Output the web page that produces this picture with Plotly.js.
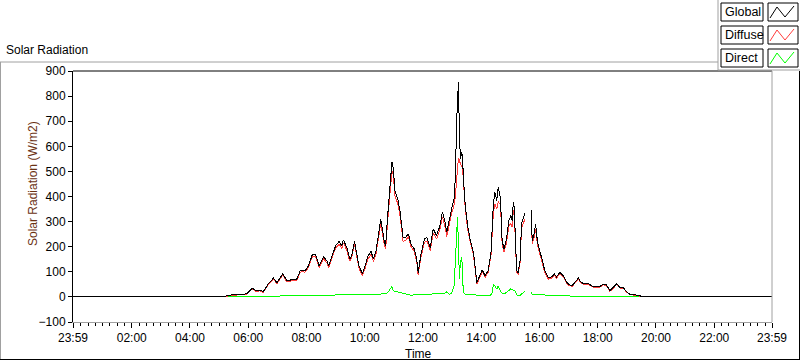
<!DOCTYPE html>
<html>
<head>
<meta charset="utf-8">
<script src="https://cdn.plot.ly/plotly-3.0.1.min.js"></script>
<style>html,body{margin:0;padding:0;background:#fff;}#chart{width:800px;height:361px;}
#chart path.js-line{shape-rendering:crispEdges;}</style>
</head>
<body>
<div id="chart"></div>
<script>
// minutes since midnight (-1 = 23:59 of previous day)
const timeMin = [-1,300,316,326,345,357,368,377,384,391,401,412,419,431,439,446,460,467,473,477,
484,492,499,506,515,522,526,533,540,547,553,556,563,569,573,579,583,588,595,
601,606,613,618,623,628,633,640,643,647,652,656,659,662,668,673,679,684,690,695,702,707,710,716,
723,728,735,741,748,755,760,765,769,774,779,784,787,789,791,793,795,797,800,802,803,807,812,817,824,829,831,837,
842,848,854,860,863,865,868,872,875,879,881,883,887,892,897,901,904,906,908,911,913,916,920,923,927,930,936,
943,945,949,952,956,961,966,971,978,985,991,995,1002,1009,1018,1027,1033,1040,1046,1052,1061,1068,1075,
1083,1091,1098,1105,1112,1119,1126,1133,1139,1146,1157,1167,1177,1439];

const globalRad = [0,0,4,8,10,12,35,24,27,21,51,75,57,91,67,67,71,104,107,104,
124,168,168,124,160,144,124,168,204,221,204,227,197,151,164,221,171,124,93,
124,160,181,151,181,244,311,224,204,317,451,537,511,424,391,337,237,237,251,211,191,151,97,171,
231,237,197,271,244,284,337,304,257,311,351,391,484,684,791,857,657,551,577,537,484,364,284,231,177,84,57,84,
108,84,104,171,291,371,417,384,437,397,331,224,191,231,304,324,304,377,357,237,104,97,144,291,317,333,null,
347,224,251,291,217,184,144,104,77,80,91,80,97,84,53,44,57,75,57,53,53,44,40,
40,51,48,24,37,53,37,37,21,11,8,4,0,0];

const diffuseRad = [0,0,3,6,8,10,31,21,24,18,47,71,53,86,62,62,65,98,101,98,
118,160,160,117,152,136,116,159,194,210,194,215,187,142,155,210,161,115,84,
114,149,170,140,169,230,295,210,190,298,425,500,488,405,372,320,222,224,240,202,181,142,88,160,
218,222,184,255,230,268,318,285,240,293,332,365,405,460,520,551,545,530,520,500,470,352,272,220,167,76,50,77,
100,78,97,162,270,335,370,350,380,368,312,210,180,215,282,292,278,345,332,218,96,92,137,275,298,310,null,
325,212,238,270,205,173,134,96,71,75,86,75,92,79,49,41,53,71,54,50,50,41,37,
37,48,45,22,34,50,35,35,19,10,7,3,0,0];

const directRad = [0,0,1,2,2,2,3,3,3,3,3,3,3,4,4,4,5,5,5,5,
5,6,6,6,6,7,7,7,8,8,8,8,8,8,9,9,9,9,9,
10,10,10,10,11,12,13,13,12,16,30,41,25,22,20,17,15,12,9,7,8,10,11,11,
11,11,11,12,12,12,13,15,20,11,14,44,151,231,317,217,71,137,157,71,17,11,11,11,11,8,7,7,
6,5,5,8,20,51,45,31,44,25,17,14,11,18,24,32,30,27,24,21,8,4,6,13,18,21,null,
17,11,11,11,11,11,10,8,5,4,4,4,4,4,3,3,3,3,3,3,2,2,2,
2,2,2,2,2,2,2,1,1,1,0,0,0,0];

const seriesNames = ['Global','Diffuse','Direct'];
const seriesColors = ['#000000','#ff3c3c','#00ff00'];
const xTickVals = [-1,120,240,360,480,600,720,840,960,1080,1200,1320,1439];
const xTickText = ['23:59','02:00','04:00','06:00','08:00','10:00','12:00','14:00','16:00','18:00','20:00','22:00','23:59'];

const xs = timeMin.map(m => m/60);
const L=73, R=772, T=71, B=322;
const px = x => (x-L)/(R-L);
const py = y => (B-y)/(B-T);

const traces = [
  {x: xs, y: directRad, name: seriesNames[2], mode:'lines', line:{color:seriesColors[2], width:1}, connectgaps:false},
  {x: xs, y: diffuseRad, name: seriesNames[1], mode:'lines', line:{color:seriesColors[1], width:1}, connectgaps:false},
  {x: xs, y: globalRad, name: seriesNames[0], mode:'lines', line:{color:seriesColors[0], width:1}, connectgaps:false}
];

const gray = '#a0a0a0';
const shapes = [];
function ln(x0,y0,x1,y1,c,w){shapes.push({type:'line',xref:'paper',yref:'paper',x0:px(x0),y0:py(y0),x1:px(x1),y1:py(y1),line:{color:c,width:w||1}});}
// outer frame
ln(0,62,718,62,gray); ln(0.5,62,0.5,360,gray); ln(0,359.5,800,359.5,'#000'); ln(799.5,71,799.5,360,'#000');
// plot frame
ln(73,71,772,71,'#000'); ln(772,71,772,322,gray);
// legend panel
ln(718,0,718,70,gray); ln(718,70,800,70,gray);
const annotations = [];
const boxTops = [3,26,49];
for (let i=0;i<3;i++){
  const t = boxTops[i], b = t+18;
  shapes.push({type:'rect',xref:'paper',yref:'paper',x0:px(721),x1:px(763),y0:py(b),y1:py(t),line:{color:'#000',width:1},fillcolor:'#fff'});
  shapes.push({type:'rect',xref:'paper',yref:'paper',x0:px(768),x1:px(798),y0:py(b),y1:py(t),line:{color:'#000',width:1},fillcolor:'#fff'});
  const pts = [[770,t+15],[777,t+4],[785,t+14],[794,t+3]];
  shapes.push({type:'path',xref:'paper',yref:'paper',path:'M'+pts.map(p=>px(p[0])+','+py(p[1])).join(' L'),line:{color:seriesColors[i],width:1}});
  annotations.push({xref:'paper',yref:'paper',x:px(723),y:py(t+9),text:seriesNames[i],showarrow:false,xanchor:'left',yanchor:'middle',font:{size:12.5,color:'#000'}});
}
annotations.push({xref:'paper',yref:'paper',x:px(4),y:py(50),text:'Solar Radiation',showarrow:false,xanchor:'left',yanchor:'middle',font:{size:12,color:'#000'}});
annotations.push({xref:'paper',yref:'paper',x:px(33),y:py(184),text:'Solar Radiation (W/m2)',textangle:-90,showarrow:false,xanchor:'center',yanchor:'middle',font:{size:12,color:'#6b3214'}});
annotations.push({xref:'paper',yref:'paper',x:px(418),y:py(354),text:'Time',showarrow:false,xanchor:'center',yanchor:'middle',font:{size:12,color:'#000'}});

const layout = {
  width:800, height:361,
  margin:{l:L, r:800-R, t:T, b:361-B, pad:0},
  paper_bgcolor:'#fff', plot_bgcolor:'#fff',
  font:{family:'"Liberation Sans", Arial, sans-serif', size:12, color:'#000'},
  showlegend:false,
  xaxis:{range:[-1/60, 1439/60], tickmode:'array', tickvals:xTickVals.map(m=>m/60), ticktext:xTickText,
    ticks:'outside', ticklen:5, tickwidth:1, tickcolor:'#000', showline:true, linecolor:gray, linewidth:1,
    showgrid:false, zeroline:false, tickfont:{size:12},
    minor:{tickmode:'linear', tick0:0, dtick:0.25, ticks:'outside', ticklen:3, tickcolor:'#000', showgrid:false}},
  yaxis:{range:[-100,900], dtick:100, tick0:0, ticks:'outside', ticklen:4, tickcolor:'#000',
    showline:true, linecolor:'#000', linewidth:1, showgrid:false, zeroline:false, tickfont:{size:12}},
  shapes:shapes, annotations:annotations
};
Plotly.newPlot('chart', traces, layout, {staticPlot:true, displayModeBar:false});
</script>
</body>
</html>
